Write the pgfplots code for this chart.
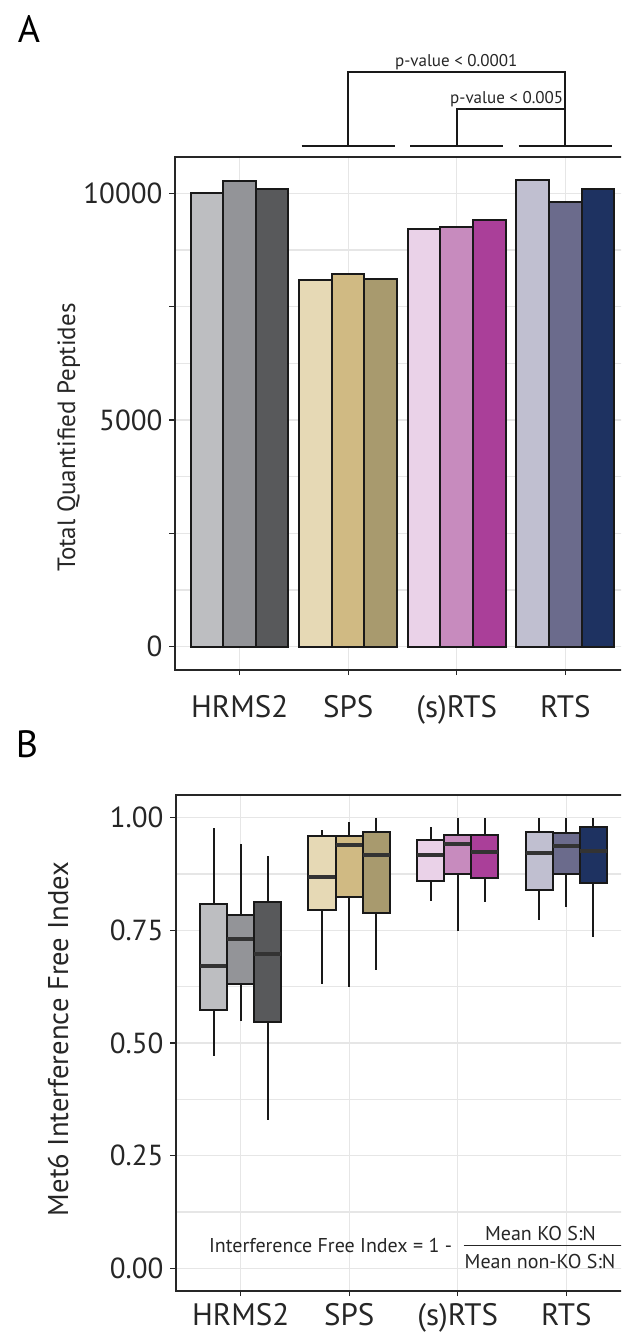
\documentclass[border=0pt]{standalone}
\usepackage{fontspec}
\setmainfont{PT Sans}
\usepackage{pgfplots}
\pgfplotsset{compat=1.18}
\usepgfplotslibrary{statistics}

\definecolor{hA}{HTML}{BDBEC1}\definecolor{hB}{HTML}{939498}\definecolor{hC}{HTML}{58595B}
\definecolor{sA}{HTML}{E6D9B5}\definecolor{sB}{HTML}{D0BA83}\definecolor{sC}{HTML}{A89A6E}
\definecolor{rA}{HTML}{EAD2E8}\definecolor{rB}{HTML}{C78BBE}\definecolor{rC}{HTML}{AA3F99}
\definecolor{tA}{HTML}{C0BFD0}\definecolor{tB}{HTML}{6B6B8C}\definecolor{tC}{HTML}{1E3261}
\definecolor{gridc}{HTML}{E6E6E6}

\pgfplotsset{
  panel/.style={
    scale only axis, width=228pt,
    xmin=-0.6, xmax=3.6,
    xtick={0,1,2,3}, xticklabels={HRMS2,SPS,(s)RTS,RTS},
    axis line style={line width=1pt, black!85},
    tick style={line width=0.7pt, black!85},
    tick align=outside, major tick length=2.5pt, minor tick length=0pt,
    xtick pos=left, ytick pos=left,
    xmajorgrids, ymajorgrids, yminorgrids,
    major grid style={line width=0.7pt, gridc},
    minor grid style={line width=0.7pt, gridc},
    clip=false, scaled y ticks=false,
    /pgf/number format/assume math mode=true,
    yticklabel style={font=\fontsize{14.5}{16}\selectfont, text=black!85},
    xticklabel style={font=\fontsize{15.5}{17}\selectfont, text=black!85, anchor=base},
    axis on top=false,
  },
  mybar/.style={ybar, bar width=0.3, bar shift=0pt, draw=black!90, line width=1pt, fill=#1},
  mybox/.style={draw=black!90, fill=#1, line width=1pt,
    boxplot/every median/.style={line width=2pt, draw=black!80}},
}

\begin{document}
\begin{tikzpicture}
\useasboundingbox (0,0) rectangle (310.5pt,-666pt);
\clip (0,0) rectangle (310.5pt,-666pt);

% ---------- Panel A ----------
\node[font=\fontsize{19}{22}\selectfont, anchor=base] at (14.5pt,-21.5pt) {A};
\begin{axis}[panel, at={(87.25pt,-335pt)}, anchor=south west, height=256.5pt,
  ymin=-515, ymax=10800,
  ytick={0,2500,5000,7500,10000}, yticklabels={0,{},5000,{},10000},
  minor ytick={1250,3750,6250,8750},
  xticklabel style={yshift=-21pt}]
\addplot[mybar=hA] coordinates {(-0.3,10015)};
\addplot[mybar=hB] coordinates {(0,10272)};
\addplot[mybar=hC] coordinates {(0.3,10088)};
\addplot[mybar=sA] coordinates {(0.7,8097)};
\addplot[mybar=sB] coordinates {(1,8223)};
\addplot[mybar=sC] coordinates {(1.3,8112)};
\addplot[mybar=rA] coordinates {(1.7,9203)};
\addplot[mybar=rB] coordinates {(2,9255)};
\addplot[mybar=rC] coordinates {(2.3,9418)};
\addplot[mybar=tA] coordinates {(2.7,10287)};
\addplot[mybar=tB] coordinates {(3,9808)};
\addplot[mybar=tC] coordinates {(3.3,10088)};
% significance brackets
\draw[line width=1pt, black!90] (axis cs:0.57,11038) -- (axis cs:1.43,11038);
\draw[line width=1pt, black!90] (axis cs:1.57,11038) -- (axis cs:2.43,11038);
\draw[line width=1pt, black!90] (axis cs:2.57,11038) -- (axis cs:3.43,11038);
\draw[line width=1pt, black!90] (axis cs:1,11038) -- (axis cs:1,12665) -- (axis cs:3,12665) -- (axis cs:3,11038);
\draw[line width=1pt, black!90] (axis cs:2,11038) -- (axis cs:2,11854) -- (axis cs:3,11854);
\node[font=\fontsize{8.5}{10}\selectfont, text=black!85] at (axis cs:1.995,12898) {p-value < 0.0001};
\node[font=\fontsize{8.5}{10}\selectfont, text=black!85] at (axis cs:2.46,12075) {p-value < 0.005};
\end{axis}
\node[rotate=90, anchor=base, font=\fontsize{12.5}{14}\selectfont, text=black!85] at (37.5pt,-218.75pt) {Total Quantified Peptides};

% ---------- Panel B ----------
\node[font=\fontsize{19}{22}\selectfont, anchor=base] at (13.5pt,-378.5pt) {B};
\begin{axis}[panel, at={(87.75pt,-645.5pt)}, anchor=south west, height=248pt,
  ymin=-0.05, ymax=1.05,
  ytick={0,0.25,0.5,0.75,1}, yticklabels={0.00,0.25,0.50,0.75,1.00},
  minor ytick={0.125,0.375,0.625,0.875},
  xticklabel style={yshift=-14.5pt},
  boxplot/draw direction=y,
  boxplot/whisker extend=0]
% HRMS2
\addplot[mybox=hA, boxplot prepared={draw position=-0.25, box extend=0.25,
  lower whisker=0.472, lower quartile=0.574, median=0.670, upper quartile=0.809, upper whisker=0.976}] coordinates {};
\addplot[mybox=hB, boxplot prepared={draw position=0, box extend=0.25,
  lower whisker=0.548, lower quartile=0.630, median=0.731, upper quartile=0.785, upper whisker=0.942}] coordinates {};
\addplot[mybox=hC, boxplot prepared={draw position=0.25, box extend=0.25,
  lower whisker=0.330, lower quartile=0.547, median=0.698, upper quartile=0.813, upper whisker=0.915}] coordinates {};
% SPS
\addplot[mybox=sA, boxplot prepared={draw position=0.75, box extend=0.25,
  lower whisker=0.630, lower quartile=0.795, median=0.868, upper quartile=0.959, upper whisker=0.972}] coordinates {};
\addplot[mybox=sB, boxplot prepared={draw position=1, box extend=0.25,
  lower whisker=0.624, lower quartile=0.824, median=0.939, upper quartile=0.958, upper whisker=0.990}] coordinates {};
\addplot[mybox=sC, boxplot prepared={draw position=1.25, box extend=0.25,
  lower whisker=0.663, lower quartile=0.788, median=0.918, upper quartile=0.967, upper whisker=1.000}] coordinates {};
% (s)RTS
\addplot[mybox=rA, boxplot prepared={draw position=1.75, box extend=0.25,
  lower whisker=0.816, lower quartile=0.859, median=0.918, upper quartile=0.950, upper whisker=0.980}] coordinates {};
\addplot[mybox=rB, boxplot prepared={draw position=2, box extend=0.25,
  lower whisker=0.748, lower quartile=0.874, median=0.941, upper quartile=0.961, upper whisker=0.998}] coordinates {};
\addplot[mybox=rC, boxplot prepared={draw position=2.25, box extend=0.25,
  lower whisker=0.813, lower quartile=0.865, median=0.924, upper quartile=0.961, upper whisker=0.998}] coordinates {};
% RTS
\addplot[mybox=tA, boxplot prepared={draw position=2.75, box extend=0.25,
  lower whisker=0.772, lower quartile=0.839, median=0.921, upper quartile=0.969, upper whisker=0.998}] coordinates {};
\addplot[mybox=tB, boxplot prepared={draw position=3, box extend=0.25,
  lower whisker=0.801, lower quartile=0.874, median=0.936, upper quartile=0.965, upper whisker=0.998}] coordinates {};
\addplot[mybox=tC, boxplot prepared={draw position=3.25, box extend=0.25,
  lower whisker=0.735, lower quartile=0.854, median=0.926, upper quartile=0.978, upper whisker=0.998}] coordinates {};
% formula
\node[anchor=base east, font=\fontsize{10}{12}\selectfont, text=black!85, inner sep=0pt] at (axis cs:1.95,0.035) {Interference Free Index = 1 -};
\draw[line width=0.8pt, black!85] (axis cs:2.053,0.051) -- (axis cs:3.7,0.051);
\node[anchor=base, font=\fontsize{10}{12}\selectfont, text=black!85, inner sep=0pt] at (axis cs:2.762,0.062) {Mean KO S:N};
\node[anchor=base west, font=\fontsize{10}{12}\selectfont, text=black!85, inner sep=0pt] at (axis cs:2.06,0.0) {Mean non-KO S:N};
\end{axis}
\node[rotate=90, anchor=base, font=\fontsize{14.3}{16}\selectfont, text=black!85] at (34pt,-519.5pt) {Met6 Interference Free Index};
\end{tikzpicture}
\end{document}
